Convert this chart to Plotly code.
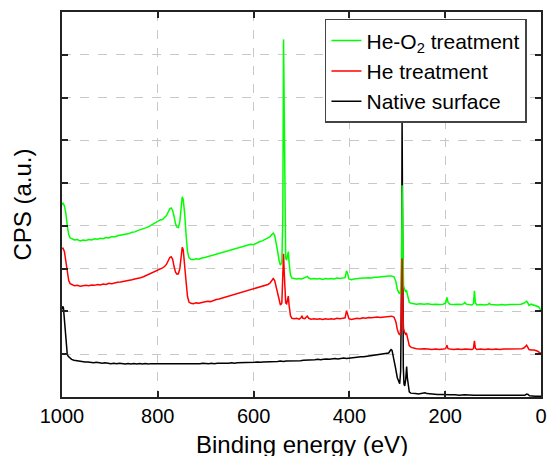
import plotly.graph_objects as go

# ---------------- data ----------------
energy_heo2 = [1000, 998, 995, 992, 989, 986, 983, 979, 974, 968, 962, 956, 950, 944, 938, 932, 926, 920, 914, 908,
               902, 896, 890, 884, 878, 872, 866, 860, 854, 848, 842, 836, 830, 824, 818, 812, 806, 800, 795, 790,
               786, 782, 778, 775, 772, 769, 766, 763, 760, 757, 754, 751, 749, 747, 744, 741, 738, 735, 731, 726,
               720, 714, 708, 702, 696, 690, 684, 678, 672, 666, 660, 654, 648, 642, 636, 630, 624, 618, 612, 606,
               600, 594, 588, 582, 576, 570, 566, 562, 559, 556, 553, 550, 547, 544, 541, 539, 537.5, 536, 534.5, 533,
               531, 529, 527.5, 526, 523, 520, 515, 510, 505, 500, 495, 491, 488, 485, 480, 474, 468, 462, 456, 450,
               444, 438, 432, 426, 420, 414, 409, 406, 404, 401, 396, 390, 384, 378, 372, 366, 360, 354, 348, 342,
               336, 330, 324, 318, 312, 307, 303, 300, 297, 294, 292, 291, 290, 288.5, 287, 285, 283, 281, 279, 277,
               275, 271, 266, 260, 252, 244, 236, 228, 220, 212, 204, 199, 196.5, 194, 190, 182, 174, 166, 161, 159,
               156, 150, 144, 141, 139, 137, 134, 126, 118, 111, 108, 105, 98, 90, 82, 74, 66, 58, 50, 42,
               36, 32, 30, 28, 25, 21, 15, 9, 5, 2, 0]
cps_heo2 = [4.50, 4.53, 4.47, 4.30, 4.00, 3.80, 3.72, 3.69, 3.67, 3.68, 3.65, 3.67, 3.66, 3.68, 3.67, 3.70, 3.69, 3.71, 3.70, 3.73,
            3.72, 3.75, 3.74, 3.77, 3.78, 3.79, 3.81, 3.82, 3.85, 3.86, 3.89, 3.91, 3.93, 3.96, 3.99, 4.03, 4.08, 4.11, 4.14, 4.15,
            4.19, 4.24, 4.33, 4.40, 4.42, 4.36, 4.22, 4.05, 3.97, 3.96, 4.10, 4.45, 4.68, 4.62, 4.30, 3.80, 3.40, 3.26, 3.22, 3.21,
            3.23, 3.22, 3.25, 3.26, 3.28, 3.29, 3.31, 3.33, 3.35, 3.37, 3.39, 3.41, 3.43, 3.45, 3.47, 3.49, 3.51, 3.53, 3.55, 3.57,
            3.56, 3.60, 3.63, 3.65, 3.68, 3.71, 3.74, 3.80, 3.83, 3.78, 3.62, 3.42, 3.20, 3.08, 3.15, 4.20, 8.36, 6.00, 3.60, 3.25,
            3.20, 3.38, 3.40, 3.15, 2.85, 2.78, 2.77, 2.76, 2.77, 2.76, 2.78, 2.81, 2.82, 2.78, 2.76, 2.77, 2.76, 2.77, 2.75, 2.77,
            2.76, 2.77, 2.76, 2.78, 2.77, 2.78, 2.79, 2.95, 2.90, 2.76, 2.74, 2.76, 2.77, 2.77, 2.78, 2.78, 2.79, 2.78, 2.80, 2.80,
            2.81, 2.81, 2.82, 2.83, 2.83, 2.81, 2.70, 2.52, 2.44, 2.42, 2.60, 3.20, 4.95, 3.00, 2.60, 2.52, 2.47, 2.50, 2.40, 2.28,
            2.21, 2.19, 2.18, 2.17, 2.18, 2.17, 2.18, 2.16, 2.17, 2.16, 2.17, 2.20, 2.33, 2.21, 2.17, 2.16, 2.17, 2.16, 2.18, 2.21,
            2.17, 2.16, 2.15, 2.18, 2.48, 2.20, 2.15, 2.16, 2.15, 2.16, 2.19, 2.16, 2.15, 2.15, 2.16, 2.15, 2.16, 2.16, 2.17, 2.17,
            2.19, 2.22, 2.24, 2.21, 2.14, 2.17, 2.15, 2.14, 2.11, 2.06, 2.03]

energy_he = [1000, 998, 995, 992, 989, 986, 983, 979, 974, 968, 962, 956, 950, 944, 938, 932, 926, 920, 914, 908,
             902, 896, 890, 884, 878, 872, 866, 860, 854, 848, 842, 836, 830, 824, 818, 812, 806, 800, 795, 790,
             786, 782, 778, 775, 772, 769, 766, 763, 760, 757, 754, 751, 749, 747, 744, 741, 738, 735, 731, 726,
             720, 714, 708, 702, 696, 690, 684, 678, 672, 666, 660, 654, 648, 642, 636, 630, 624, 618, 612, 606,
             600, 594, 588, 582, 576, 570, 566, 562, 559, 556, 553, 550, 547, 544, 541, 539, 537.5, 536, 534.5, 533,
             531, 529, 527.5, 526, 523, 520, 515, 510, 505, 501, 499, 497, 493, 490, 488, 485, 480, 474, 468, 462,
             456, 450, 444, 438, 432, 426, 420, 414, 409, 406, 404, 401, 396, 390, 384, 378, 372, 366, 360, 354,
             348, 342, 336, 330, 324, 318, 312, 307, 303, 300, 297, 294, 292, 291, 290, 288.5, 287, 285, 283, 281,
             279, 277, 275, 271, 266, 260, 252, 244, 236, 228, 220, 212, 204, 199, 196.5, 194, 190, 182, 174, 166,
             158, 150, 144, 141, 139, 137, 134, 126, 118, 110, 102, 94, 86, 78, 70, 62, 54, 46, 40, 35,
             32, 30, 28, 25, 21, 15, 9, 5, 2, 0]
cps_he = [3.47, 3.48, 3.40, 3.20, 2.90, 2.72, 2.65, 2.62, 2.60, 2.61, 2.59, 2.60, 2.61, 2.60, 2.62, 2.61, 2.63, 2.62, 2.64, 2.63,
          2.66, 2.65, 2.67, 2.68, 2.69, 2.70, 2.71, 2.73, 2.74, 2.76, 2.77, 2.79, 2.81, 2.84, 2.87, 2.90, 2.94, 2.97, 3.00, 3.02,
          3.05, 3.10, 3.19, 3.26, 3.28, 3.22, 3.05, 2.92, 2.87, 2.88, 3.00, 3.30, 3.50, 3.45, 3.15, 2.70, 2.35, 2.22, 2.19, 2.18,
          2.20, 2.19, 2.21, 2.22, 2.24, 2.23, 2.26, 2.28, 2.29, 2.31, 2.33, 2.35, 2.36, 2.38, 2.40, 2.42, 2.44, 2.46, 2.48, 2.50,
          2.52, 2.54, 2.56, 2.58, 2.60, 2.63, 2.66, 2.74, 2.77, 2.72, 2.58, 2.42, 2.25, 2.15, 2.20, 2.80, 3.35, 2.90, 2.30, 2.20,
          2.18, 2.33, 2.36, 2.15, 1.90, 1.84, 1.83, 1.84, 1.82, 1.85, 1.90, 1.84, 1.83, 1.87, 1.89, 1.84, 1.82, 1.83, 1.82, 1.83,
          1.81, 1.83, 1.82, 1.83, 1.82, 1.84, 1.83, 1.84, 1.85, 2.02, 1.96, 1.83, 1.81, 1.83, 1.84, 1.83, 1.85, 1.84, 1.86, 1.85,
          1.86, 1.87, 1.86, 1.87, 1.88, 1.88, 1.89, 1.87, 1.76, 1.58, 1.48, 1.45, 1.70, 2.30, 3.24, 2.00, 1.60, 1.52, 1.47, 1.50,
          1.40, 1.28, 1.20, 1.16, 1.14, 1.13, 1.12, 1.13, 1.12, 1.11, 1.12, 1.11, 1.12, 1.13, 1.21, 1.13, 1.12, 1.11, 1.12, 1.11,
          1.12, 1.11, 1.11, 1.13, 1.31, 1.14, 1.11, 1.12, 1.11, 1.12, 1.11, 1.12, 1.11, 1.12, 1.12, 1.13, 1.12, 1.13, 1.13, 1.15,
          1.18, 1.21, 1.17, 1.11, 1.10, 1.10, 1.08, 1.06, 1.04, 1.02]

energy_native = [1000, 998.5, 997, 995, 993, 991, 989, 987, 984, 980, 975, 970, 964, 958, 952, 946, 940, 934, 928, 922,
                 916, 910, 904, 898, 892, 886, 880, 874, 868, 862, 856, 850, 844, 838, 832, 826, 820, 814, 808, 802,
                 796, 790, 784, 778, 772, 766, 760, 754, 748, 742, 736, 730, 724, 718, 712, 706, 700, 694, 688, 682,
                 676, 670, 664, 658, 652, 646, 640, 634, 628, 622, 616, 610, 604, 598, 592, 586, 580, 574, 568, 562,
                 556, 550, 544, 538, 532, 526, 520, 514, 508, 502, 496, 490, 484, 478, 472, 466, 460, 454, 448, 442,
                 436, 430, 424, 418, 412, 406, 400, 394, 388, 382, 376, 370, 364, 358, 352, 346, 340, 334, 328, 322,
                 318, 315, 313, 311, 308, 304, 300, 297, 295, 293, 291, 290, 289, 287.5, 286, 284.5, 282.5, 280.5, 279, 277,
                 275, 272, 268, 262, 256, 250, 245, 242, 238, 232, 224, 216, 208, 200, 190, 180, 170, 160, 150, 140,
                 130, 120, 110, 100, 90, 80, 70, 60, 50, 40, 34, 30, 27, 24, 18, 12, 6, 0]
cps_native = [2.05, 2.12, 2.08, 1.80, 1.45, 1.15, 1.00, 0.95, 0.91, 0.88, 0.86, 0.85, 0.84, 0.83, 0.82, 0.82, 0.81, 0.80, 0.81, 0.80,
              0.79, 0.80, 0.79, 0.78, 0.79, 0.78, 0.79, 0.78, 0.77, 0.78, 0.77, 0.78, 0.77, 0.78, 0.77, 0.78, 0.77, 0.78, 0.78, 0.77,
              0.78, 0.78, 0.77, 0.78, 0.77, 0.78, 0.78, 0.77, 0.78, 0.77, 0.78, 0.78, 0.77, 0.78, 0.78, 0.79, 0.78, 0.78, 0.79, 0.78,
              0.79, 0.79, 0.78, 0.79, 0.79, 0.80, 0.79, 0.80, 0.80, 0.80, 0.81, 0.80, 0.81, 0.81, 0.82, 0.81, 0.82, 0.82, 0.83, 0.82,
              0.83, 0.83, 0.84, 0.83, 0.84, 0.84, 0.85, 0.84, 0.85, 0.85, 0.86, 0.86, 0.87, 0.86, 0.87, 0.88, 0.87, 0.88, 0.89, 0.88,
              0.89, 0.90, 0.89, 0.90, 0.91, 0.90, 0.91, 0.92, 0.92, 0.93, 0.94, 0.94, 0.95, 0.96, 0.96, 0.97, 0.98, 0.99, 1.00, 1.01,
              1.03, 1.08, 1.11, 1.09, 0.95, 0.70, 0.45, 0.33, 0.31, 0.60, 3.00, 6.51, 3.20, 0.70, 0.30, 0.26, 0.40, 0.71, 0.45, 0.20,
              0.12, 0.09, 0.08, 0.08, 0.07, 0.08, 0.09, 0.10, 0.08, 0.07, 0.07, 0.06, 0.06, 0.05, 0.05, 0.05, 0.04, 0.05, 0.04, 0.04,
              0.04, 0.04, 0.03, 0.04, 0.03, 0.03, 0.03, 0.03, 0.03, 0.03, 0.04, 0.07, 0.06, 0.03, 0.02, 0.02, 0.02, 0.02]

series_names = ["He-O<sub>2</sub> treatment", "He treatment", "Native surface"]
x_tick_values = [1000, 800, 600, 400, 200, 0]
x_tick_labels = ["1000", "800", "600", "400", "200", "0"]
x_title = "Binding energy (eV)"
y_title = "CPS (a.u.)"

# ---------------- figure ----------------
FONT = "Liberation Sans, Arial, sans-serif"
fig = go.Figure()
# drawing order: black, green, red ; legend order: green, red, black
fig.add_trace(go.Scatter(x=energy_native, y=cps_native, mode="lines", name=series_names[2],
                         line=dict(color="#000000", width=1.5), legendrank=3))
fig.add_trace(go.Scatter(x=energy_heo2, y=cps_heo2, mode="lines", name=series_names[0],
                         line=dict(color="#00ff00", width=1.5), legendrank=1))
fig.add_trace(go.Scatter(x=energy_he, y=cps_he, mode="lines", name=series_names[1],
                         line=dict(color="#ff0000", width=1.5), legendrank=2))

axis_common = dict(showline=True, linecolor="#222222", linewidth=1.5, mirror="ticks",
                   ticks="inside", ticklen=6, tickwidth=1.5, tickcolor="#222222",
                   showgrid=True, gridcolor="#c8c8c8", gridwidth=1, griddash="dash",
                   zeroline=False, automargin=False)

fig.update_layout(
    width=547, height=456,
    margin=dict(l=62, r=6, t=12, b=59),
    paper_bgcolor="white", plot_bgcolor="white",
    font=dict(family=FONT, color="#000000"),
    xaxis=dict(range=[1000, 0], tickvals=x_tick_values, ticktext=x_tick_labels,
               tickfont=dict(size=20, family=FONT),
               **axis_common),
    yaxis=dict(range=[0, 9], dtick=1, tick0=0, showticklabels=False,
               title=dict(text=y_title, font=dict(size=24, family=FONT), standoff=22),
               **axis_common),
    legend=dict(x=0.549, y=0.982, xanchor="left", yanchor="top",
                bgcolor="white", bordercolor="#444444", borderwidth=1.5,
                font=dict(size=21, family=FONT), tracegroupgap=0),
    showlegend=True,
)
# x-axis title placed as an annotation so it sits as low as in the reference
fig.add_annotation(text=x_title, xref="paper", yref="paper", x=0.5, y=-0.124,
                   xanchor="center", yanchor="middle", showarrow=False,
                   font=dict(size=24, family=FONT, color="#000000"))

fig.write_html("out.html")
